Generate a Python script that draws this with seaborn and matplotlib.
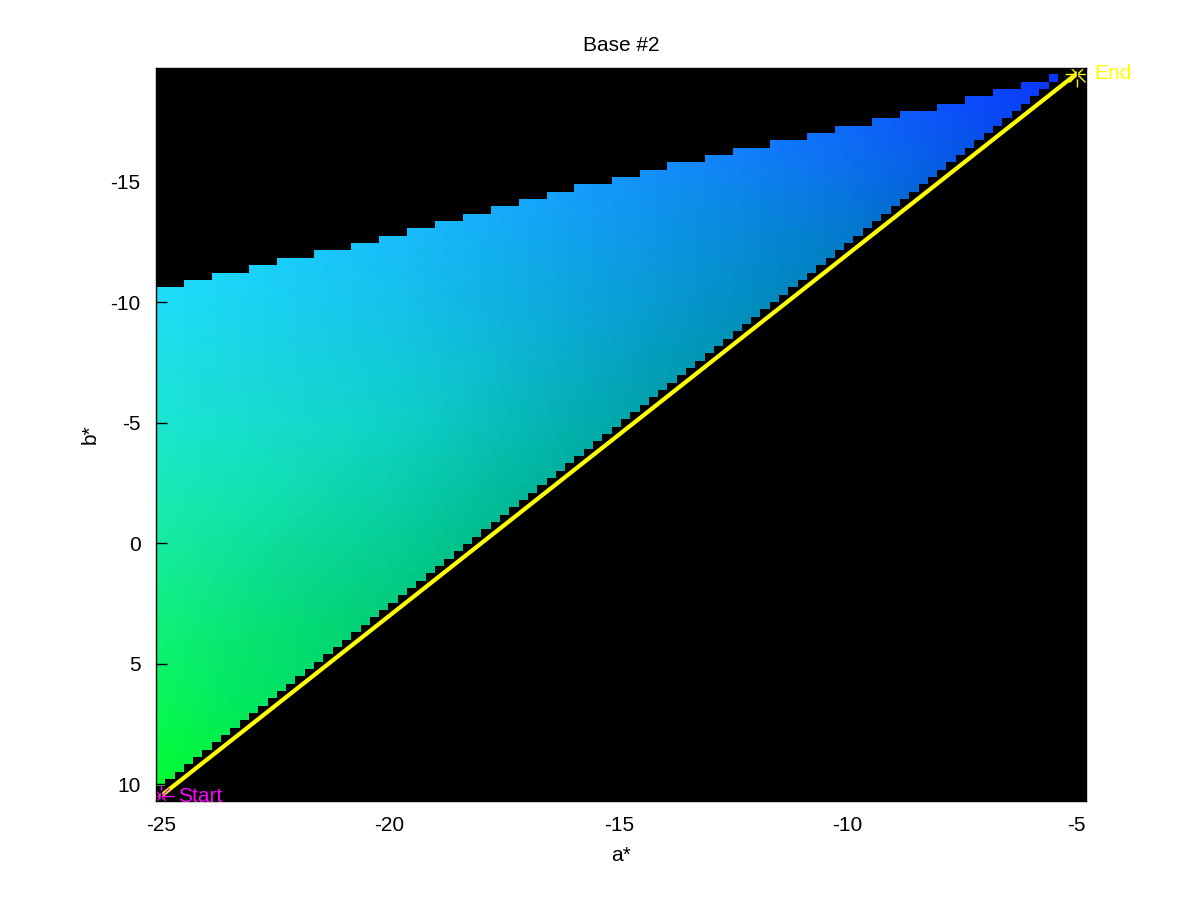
import numpy as np
import pandas as pd
import seaborn as sns
import matplotlib.pyplot as plt
import matplotlib.tri as mtri

# path end points (a*, b*)
start_ab = (-25.0, 10.5)
end_ab = (-5.0, -19.5)

# upper gamut edge
top_a = [-25.0, -22.5, -20.0, -17.5, -15.0, -12.5, -10.0, -7.5, -5.0]
top_b = [-10.5, -11.6, -12.6, -13.9, -15.1, -16.2, -17.2, -18.3, -19.5]

# colour anchors
anc_a = [-25.2, -20.0, -15.0, -10.0, -4.7, -25.2, -25.2, -25.2, -25.2,
         -20.0, -15.0, -10.0, -20.0, -15.0, -20.0, -10.0, -22.5]
anc_b = [-10.8, -12.9, -15.3, -17.4, -19.8, -5.0, 0.0, 5.0, 10.7,
         3.0, -4.5, -12.0, -5.0, -10.0, -10.0, -15.0, 7.0]
anc_r = [30, 25, 20, 15, 10, 28, 22, 12, 0, 0, 0, 0, 15, 10, 22, 10, 0]
anc_g = [222, 190, 150, 105, 45, 230, 237, 245, 255, 205, 168, 125, 210, 160, 195, 115, 228]
anc_bl = [252, 252, 252, 252, 255, 210, 160, 105, 40, 120, 165, 195, 200, 215, 235, 230, 95]

n = 100
a_c = np.linspace(start_ab[0], end_ab[0] + 0.1, n)
b_c = np.linspace(end_ab[1] - 0.1, start_ab[1] + 0.05, n)
A, B = np.meshgrid(a_c, b_c)

tri = mtri.Triangulation(anc_a, anc_b)
img = np.zeros((n, n, 3))
for i, ch in enumerate([anc_r, anc_g, anc_bl]):
    f = mtri.LinearTriInterpolator(tri, np.array(ch, float) / 255)
    v = f(A, B)
    img[..., i] = np.clip(np.ma.filled(v, 0), 0, 1)

slope = (end_ab[1] - start_ab[1]) / (end_ab[0] - start_ab[0])
line_b = start_ab[1] + slope * (A - start_ab[0])
top = np.interp(A, top_a, top_b)
mask = (B >= top - 0.05) & (B <= line_b - 0.3)
img[~mask] = 0

da = a_c[1] - a_c[0]
db = b_c[1] - b_c[0]
extent = [a_c[0] - da / 2, a_c[-1] + da / 2, b_c[-1] + db / 2, b_c[0] - db / 2]

sns.set_style("white")
plt.rcParams['font.family'] = ['Liberation Sans', 'DejaVu Sans']
plt.rcParams['axes.unicode_minus'] = False
plt.rcParams['text.color'] = 'black'
plt.rcParams['axes.labelcolor'] = 'black'
plt.rcParams['xtick.color'] = 'black'
plt.rcParams['ytick.color'] = 'black'

fig = plt.figure(figsize=(12, 9), dpi=100)
ax = fig.add_axes([0.13, 0.11, 0.775, 0.815])
ax.set_axisbelow(False)
ax.imshow(img, extent=extent, aspect='auto', interpolation='nearest')

path = pd.DataFrame({'a': [start_ab[0], end_ab[0]], 'b': [start_ab[1], end_ab[1]]})
sns.lineplot(data=path, x='a', y='b', color='#ffff00', lw=3, ax=ax, sort=False)

for (pa, pb), col, txt in [(start_ab, '#ff00ff', 'Start'), (end_ab, '#ffff00', 'End')]:
    ax.plot(pa, pb, marker='+', ms=18, mew=1, color=col)
    ax.plot(pa, pb, marker='x', ms=12, mew=1, color=col)
    ax.text(pa + 0.38, pb, txt, color=col, fontsize=15, va='center', ha='left')

ax.set_xlim(extent[0], extent[1])
ax.set_ylim(extent[2], extent[3])
ax.set_xticks([-25, -20, -15, -10, -5])
ax.set_yticks([-15, -10, -5, 0, 5, 10])
ax.tick_params(direction='in', length=8, width=1, labelsize=15, pad=11,
               bottom=True, left=True, top=True, right=True)
ax.set_xlabel('a*', fontsize=15, labelpad=8)
ax.set_ylabel('b*', fontsize=15, labelpad=8)
ax.set_title('Base #2', fontsize=15, pad=12)
for s in ax.spines.values():
    s.set_color('black')
    s.set_linewidth(1)

fig.savefig('out.png', dpi=100)
